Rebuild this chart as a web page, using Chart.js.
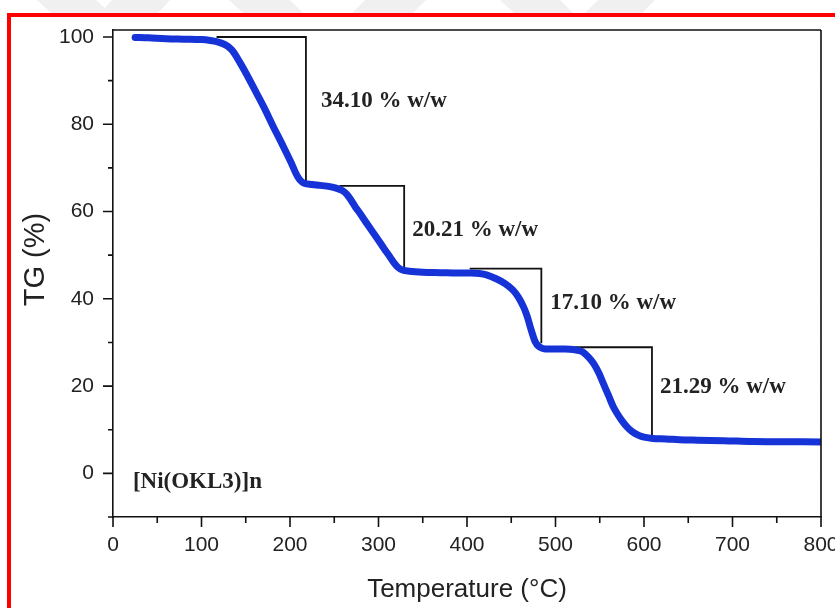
<!DOCTYPE html>
<html>
<head>
<meta charset="utf-8">
<script src="https://cdn.jsdelivr.net/npm/chart.js@4.4.1/dist/chart.umd.min.js"></script>
<style>
  html, body { margin: 0; padding: 0; background: #fff; overflow: hidden; }
  #wrap { position: relative; width: 835px; height: 608px; }
  #frame {
    position: absolute; left: 7px; top: 13px; width: 900px; height: 700px;
    border-left: 4px solid #ff0000; border-top: 4px solid #ff0000;
    pointer-events: none;
  }
</style>
</head>
<body>
<div id="wrap">
  <canvas id="tgChart" width="835" height="608"></canvas>
  <div id="frame"></div>
</div>
<script>
// TG curve, temperature in °C and residual mass in %
const temps = [25, 40, 60, 80, 100, 110, 118, 125, 130, 136, 143, 150, 162, 172, 181, 190, 196, 202, 207, 211, 216,
  225, 234, 245, 253, 259, 264, 269, 274, 279, 288, 298, 306, 313, 318, 322, 327, 335, 350, 370, 390, 405, 414,
  422, 433, 443, 452, 458, 464, 468, 471, 474, 477, 481, 486, 495, 510, 520, 527, 531, 537, 543, 549, 554, 560,
  565, 570, 575, 581, 587, 594, 600, 610, 625, 640, 660, 690, 723, 760, 800];
const mass = [99.9, 99.8, 99.6, 99.5, 99.4, 99.2, 98.9, 98.4, 97.8, 96.6, 94.3, 91.8, 87.2, 83.3, 79.5, 75.9, 73.4, 70.9, 68.6, 67.3, 66.5,
  66.2, 66.0, 65.7, 65.3, 64.8, 64.0, 62.6, 61.0, 59.6, 56.9, 54.0, 51.6, 49.6, 48.1, 47.2, 46.6, 46.3, 46.1, 46.0, 45.9, 45.9, 45.8,
  45.5, 44.6, 43.5, 42.0, 40.4, 38.1, 36.0, 33.9, 31.9, 30.2, 29.1, 28.6, 28.5, 28.5, 28.4, 28.1, 27.8, 26.7, 25.2, 23.0, 20.6, 17.8,
  15.4, 13.6, 12.1, 10.6, 9.5, 8.7, 8.3, 8.0, 7.9, 7.7, 7.6, 7.5, 7.3, 7.25, 7.2];

// decomposition steps: start of the top line, drop position, top level and mass loss (% w/w)
const stepStart = [117, 256, 403, 522];
const stepEnd = [218, 329, 484, 609];
const stepTop = [100, 65.9, 46.9, 28.9];
const stepLoss = [34.10, 20.21, 17.10, 21.29];

const xTicks = [0, 100, 200, 300, 400, 500, 600, 700, 800];
const yTicks = [0, 20, 40, 60, 80, 100];
const compound = '[Ni(OKL3)]n';

const curve = temps.map((t, i) => ({ x: t, y: mass[i] }));

const stepSets = stepLoss.map((loss, i) => ({
  data: [
    { x: stepStart[i], y: stepTop[i] },
    { x: stepEnd[i], y: stepTop[i] },
    { x: stepEnd[i], y: +(stepTop[i] - loss).toFixed(2) }
  ],
  borderColor: '#111',
  borderWidth: 1.8,
  pointRadius: 0,
  tension: 0,
  fill: false
}));

// text anchors for the loss labels (left edge, vertical middle), in axis units
const lossLabelAt = [[235, 85.3], [338, 55.7], [494, 39.0], [618, 19.7]];

// pale chevrons of the page watermark above the frame
const marks = [
  [[37, 0], [96, 0], [110, 13], [51, 13]],
  [[112, 0], [170, 0], [158, 13], [100, 13]],
  [[229, 0], [290, 0], [303, 13], [243, 13]],
  [[365, 0], [426, 0], [413, 13], [352, 13]],
  [[500, 0], [560, 0], [573, 13], [514, 13]],
  [[598, 0], [655, 0], [642, 13], [585, 13]]
];

const pagePlugin = {
  id: 'pagePlugin',
  beforeDraw(chart) {
    const ctx = chart.ctx;
    ctx.save();
    ctx.fillStyle = '#f0f0f0';
    marks.forEach(poly => {
      ctx.beginPath();
      poly.forEach(([px, py], k) => k ? ctx.lineTo(px, py) : ctx.moveTo(px, py));
      ctx.closePath();
      ctx.fill();
    });
    ctx.restore();
  },
  afterDraw(chart) {
    const { ctx, chartArea: a } = chart;
    const xs = chart.scales.x, ys = chart.scales.y;
    ctx.save();
    ctx.strokeStyle = '#111';
    ctx.lineWidth = 1.6;
    ctx.beginPath();
    // top and right edges of the frame
    ctx.moveTo(a.left, a.top); ctx.lineTo(a.right, a.top);
    ctx.moveTo(a.right, a.top); ctx.lineTo(a.right, a.bottom);
    // outward ticks, long on labelled values
    xs.ticks.forEach(t => {
      const px = xs.getPixelForValue(t.value);
      const len = t.value % 100 === 0 ? 10 : 6;
      ctx.moveTo(px, a.bottom); ctx.lineTo(px, a.bottom + len);
    });
    ys.ticks.forEach(t => {
      const py = ys.getPixelForValue(t.value);
      const len = t.value % 20 === 0 ? 10 : 5;
      ctx.moveTo(a.left, py); ctx.lineTo(a.left - len, py);
    });
    ctx.stroke();

    ctx.fillStyle = '#222';
    ctx.font = 'bold 23px "Liberation Serif", "Times New Roman", serif';
    ctx.textAlign = 'left';
    ctx.textBaseline = 'middle';
    stepLoss.forEach((loss, i) => {
      const [lx, ly] = lossLabelAt[i];
      ctx.fillText(loss.toFixed(2) + ' % w/w', xs.getPixelForValue(lx), ys.getPixelForValue(ly));
    });
    ctx.fillText(compound, xs.getPixelForValue(22.5), ys.getPixelForValue(-2.1));

    // y axis title
    ctx.font = '29px "Liberation Sans", Arial, sans-serif';
    ctx.textAlign = 'center';
    ctx.translate(36, ys.getPixelForValue(49));
    ctx.rotate(-Math.PI / 2);
    ctx.fillText('TG (%)', 0, 0);
    ctx.restore();
  }
};

new Chart(document.getElementById('tgChart'), {
  type: 'line',
  data: {
    datasets: [{
      data: curve,
      borderColor: '#1533d6',
      borderWidth: 7,
      pointRadius: 0,
      tension: 0.35,
      borderCapStyle: 'round',
      borderJoinStyle: 'round',
      fill: false
    }, ...stepSets]
  },
  options: {
    responsive: false,
    animation: false,
    devicePixelRatio: 1,
    layout: { padding: { top: 30, right: 14, bottom: 0, left: 0 } },
    plugins: { legend: { display: false }, tooltip: { enabled: false } },
    scales: {
      x: {
        type: 'linear',
        min: 0,
        max: 800,
        grid: { drawOnChartArea: false, drawTicks: false },
        border: { display: true, color: '#111', width: 1.6 },
        ticks: {
          stepSize: 50,
          padding: 16,
          color: '#222',
          font: { family: '"Liberation Sans", Arial, sans-serif', size: 21 },
          callback: v => xTicks.includes(v) ? String(v) : ''
        },
        title: {
          display: true,
          text: 'Temperature (°C)',
          color: '#222',
          font: { family: '"Liberation Sans", Arial, sans-serif', size: 26, lineHeight: 1.2 },
          padding: { top: 0, bottom: 3 }
        },
        afterFit(scale) {
          scale.height = 91;
          scale.paddingLeft = 0;
          scale.paddingRight = 0;
        }
      },
      y: {
        min: -10,
        max: 101.6,
        grid: { drawOnChartArea: false, drawTicks: false },
        border: { display: true, color: '#111', width: 1.6 },
        ticks: {
          stepSize: 10,
          includeBounds: false,
          padding: 19,
          color: '#222',
          font: { family: '"Liberation Sans", Arial, sans-serif', size: 21 },
          callback: v => yTicks.includes(v) ? String(v) : ''
        },
        afterFit(scale) {
          scale.width = 113;
          scale.paddingTop = 0;
          scale.paddingBottom = 0;
        }
      }
    }
  },
  plugins: [pagePlugin]
});
</script>
</body>
</html>
